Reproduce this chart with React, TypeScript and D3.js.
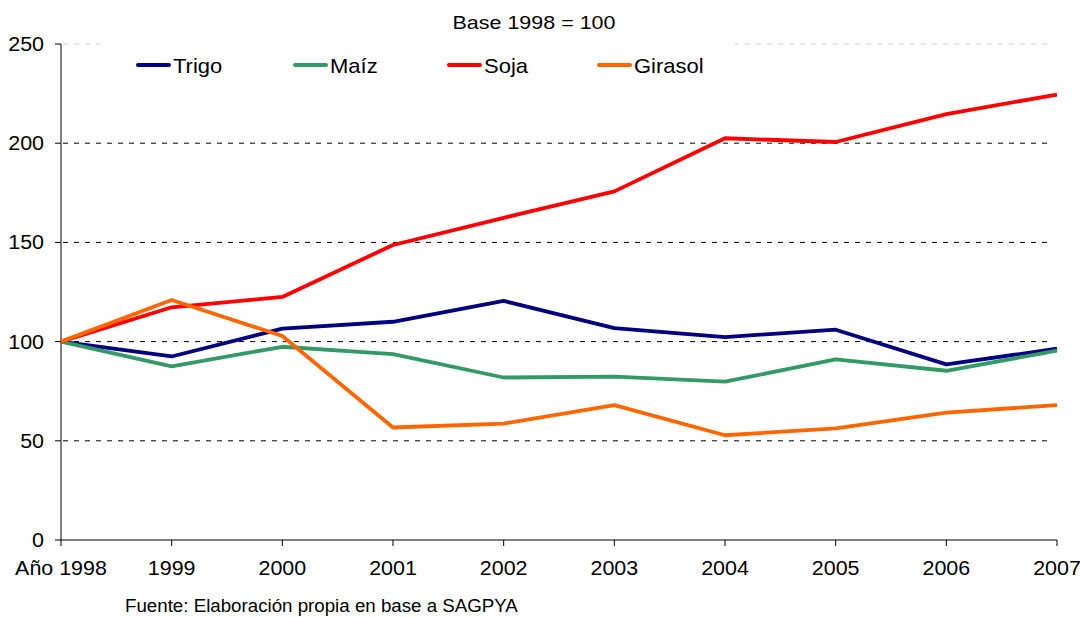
import React from "react";
import * as d3 from "d3";

const years = ["1998", "1999", "2000", "2001", "2002", "2003", "2004", "2005", "2006", "2007"];
const yearLabels = ["Año 1998", "1999", "2000", "2001", "2002", "2003", "2004", "2005", "2006", "2007"];
const trigo = [100, 92.5, 106.5, 110, 120.5, 106.8, 102.3, 106, 88.5, 96.4];
const maiz = [100, 87.5, 97.4, 93.7, 81.9, 82.3, 79.8, 91, 85.3, 95.4];
const soja = [100, 117.3, 122.5, 148.7, 162.4, 175.7, 202.5, 200.6, 214.7, 224.5];
const girasol = [100, 121, 102.8, 56.7, 58.7, 68, 52.8, 56.3, 64.2, 68];
const yTicks = [0, 50, 100, 150, 200, 250];

const series = [
  { name: "Trigo", values: trigo, color: "#000080", lx: 138 },
  { name: "Maíz", values: maiz, color: "#339966", lx: 295 },
  { name: "Soja", values: soja, color: "#FF0000", lx: 449 },
  { name: "Girasol", values: girasol, color: "#FF6600", lx: 599 },
];

const font = "'Liberation Sans', Arial, sans-serif";

// the original text is a bit wider than Liberation Sans, so stretch it horizontally
function Label({ x, y, size, sx = 1.1, anchor = "start", children }: any) {
  return (
    <text
      transform={`translate(${x},${y}) scale(${sx},1)`}
      textAnchor={anchor}
      fontSize={size}
      fill="#000"
    >
      {children}
    </text>
  );
}

export default function App() {
  const width = 1080;
  const height = 617;
  const left = 61;
  const right = 1057;
  const top = 44;
  const bottom = 540;

  const x = d3.scalePoint<string>().domain(years).range([left, right]);
  const y = d3.scaleLinear().domain([0, 250]).range([bottom, top]);

  const line = d3
    .line<number>()
    .x((_, i) => x(years[i]) as number)
    .y((d) => y(d));

  return (
    <svg
      width={width}
      height={height}
      style={{ position: "absolute", left: 0, top: 0, background: "#fff" }}
      fontFamily={font}
    >
      {/* gridlines */}
      {yTicks
        .filter((t) => t > 0)
        .map((t) => (
          <line
            key={t}
            x1={left + 2}
            x2={1052}
            y1={y(t)}
            y2={y(t)}
            stroke={t === 250 ? "#d0d0d0" : "#000"}
            strokeWidth={1}
            strokeDasharray="5,6"
          />
        ))}

      {/* title */}
      <Label x={534} y={29} size={19} sx={1.13} anchor="middle">
        Base 1998 = 100
      </Label>

      {/* legend box hides top gridline */}
      <rect x={100} y={40} width={635} height={50} fill="#fff" />
      {series.map((s) => (
        <g key={s.name}>
          <line
            x1={s.lx}
            x2={s.lx + 31}
            y1={65}
            y2={65}
            stroke={s.color}
            strokeWidth={4}
            strokeLinecap="round"
          />
          <Label x={s.lx + 35} y={73} size={20} sx={1.1}>
            {s.name}
          </Label>
        </g>
      ))}

      {/* axes */}
      <line x1={left} x2={left} y1={top} y2={bottom} stroke="#000" strokeWidth={1} />
      <line x1={left} x2={right} y1={bottom} y2={bottom} stroke="#000" strokeWidth={1} />
      {yTicks.map((t) => (
        <g key={t}>
          <line x1={left - 6} x2={left} y1={y(t)} y2={y(t)} stroke="#000" />
          <Label x={44} y={y(t) + 7} size={19.5} sx={1.1} anchor="end">
            {t}
          </Label>
        </g>
      ))}
      {years.map((yr, i) => (
        <g key={yr}>
          <line x1={x(yr)} x2={x(yr)} y1={bottom} y2={bottom + 6} stroke="#000" />
          <Label x={x(yr)} y={575} size={19.5} sx={1.1} anchor="middle">
            {yearLabels[i]}
          </Label>
        </g>
      ))}

      {/* series */}
      {series.map((s) => (
        <path
          key={s.name}
          d={line(s.values) || ""}
          fill="none"
          stroke={s.color}
          strokeWidth={3.8}
          strokeLinejoin="round"
        />
      ))}

      {/* footer */}
      <Label x={125} y={612} size={17.5} sx={1.07}>
        Fuente: Elaboración propia en base a SAGPYA
      </Label>
    </svg>
  );
}
